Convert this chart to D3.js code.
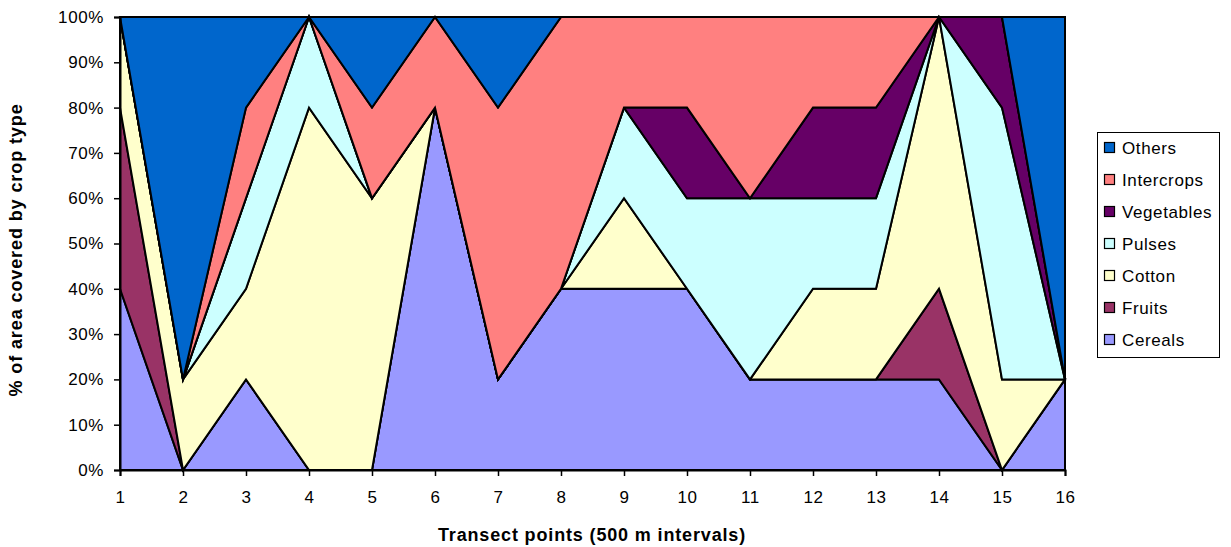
<!DOCTYPE html>
<html>
<head>
<meta charset="utf-8">
<script src="https://cdn.jsdelivr.net/npm/d3@7/dist/d3.min.js"></script>
<style>
  html, body { margin: 0; padding: 0; background: #fff; }
  svg { display: block; font-family: "Liberation Sans", Arial, sans-serif; }
</style>
</head>
<body>
<svg id="chart" width="1231" height="547"></svg>
<script>
// Transect points along the survey line
const points = [1, 2, 3, 4, 5, 6, 7, 8, 9, 10, 11, 12, 13, 14, 15, 16];

// Share of area (%) by crop type at each transect point
const cereals    = [40, 0, 20, 0, 0, 80, 20, 40, 40, 40, 20, 20, 20, 20, 0, 20];
const fruits     = [40, 0, 0, 0, 0, 0, 0, 0, 0, 0, 0, 0, 0, 20, 0, 0];
const cotton     = [20, 20, 20, 80, 60, 0, 0, 0, 20, 0, 0, 20, 20, 60, 20, 0];
const pulses     = [0, 0, 20, 20, 0, 0, 0, 0, 20, 20, 40, 20, 20, 0, 60, 0];
const vegetables = [0, 0, 0, 0, 0, 0, 0, 0, 0, 20, 0, 20, 20, 0, 20, 0];
const intercrops = [0, 0, 20, 0, 20, 20, 60, 60, 20, 20, 40, 20, 20, 0, 0, 0];
const others     = [0, 80, 20, 0, 20, 0, 20, 0, 0, 0, 0, 0, 0, 0, 0, 80];

const seriesNames  = ["Cereals", "Fruits", "Cotton", "Pulses", "Vegetables", "Intercrops", "Others"];
const seriesValues = [cereals, fruits, cotton, pulses, vegetables, intercrops, others];
const seriesColors = ["#9999FF", "#993366", "#FFFFCC", "#CCFFFF", "#660066", "#FF8080", "#0066CC"];

const yTicks = [0, 10, 20, 30, 40, 50, 60, 70, 80, 90, 100];

const svg = d3.select("#chart");
const plot = { left: 120, right: 1065, top: 17, bottom: 470 };

const x = d3.scaleLinear().domain([1, 16]).range([plot.left, plot.right]);
const y = d3.scaleLinear().domain([0, 100]).range([plot.bottom, plot.top]);

// Build rows for d3.stack
const rows = points.map((p, i) => {
  const r = { point: p };
  seriesNames.forEach((n, k) => { r[n] = seriesValues[k][i]; });
  return r;
});
const stacked = d3.stack().keys(seriesNames)(rows);

const area = d3.area()
  .x(d => x(d.data.point))
  .y0(d => y(d[0]))
  .y1(d => y(d[1]));

svg.append("g")
  .selectAll("path")
  .data(stacked)
  .join("path")
  .attr("d", area)
  .attr("fill", (d, i) => seriesColors[i])
  .attr("stroke", "#000")
  .attr("stroke-width", 2)
  .attr("stroke-linejoin", "miter");

// Plot frame (top and right edges)
svg.append("path")
  .attr("d", `M${plot.left},${plot.top}H${plot.right}V${plot.bottom}`)
  .attr("fill", "none").attr("stroke", "#000").attr("stroke-width", 2);

const tickFont = g => g.selectAll("text")
  .attr("font-size", 17).attr("fill", "#000")
  .attr("letter-spacing", 0.6)
  .attr("font-family", "Liberation Sans, Arial, sans-serif");

// Y axis
const yAxis = d3.axisLeft(y).tickValues(yTicks).tickFormat(d => d + "%").tickSize(6).tickPadding(10);
const gy = svg.append("g").attr("transform", `translate(${plot.left},0)`).call(yAxis);
gy.select(".domain").attr("stroke-width", 2);
gy.selectAll(".tick line").attr("stroke-width", 1.5);
tickFont(gy);

// X axis
const xAxis = d3.axisBottom(x).tickValues(points).tickFormat(d3.format("d")).tickSize(6).tickPadding(15);
const gx = svg.append("g").attr("transform", `translate(0,${plot.bottom})`).call(xAxis);
gx.select(".domain").attr("stroke-width", 2);
gx.selectAll(".tick line").attr("stroke-width", 1.5);
tickFont(gx);

// Axis titles
svg.append("text")
  .attr("x", 592).attr("y", 541)
  .attr("text-anchor", "middle").attr("font-size", 18).attr("font-weight", "bold")
  .attr("letter-spacing", 0.85)
  .text("Transect points (500 m intervals)");

svg.append("text")
  .attr("transform", `translate(22,250) rotate(-90)`)
  .attr("text-anchor", "middle").attr("font-size", 18).attr("font-weight", "bold")
  .attr("letter-spacing", 0.9)
  .text("% of area covered by crop type");

// Legend (top to bottom in reverse stacking order)
const legend = svg.append("g");
legend.append("rect")
  .attr("x", 1097.5).attr("y", 132.5).attr("width", 122).attr("height", 225)
  .attr("fill", "#fff").attr("stroke", "#000").attr("stroke-width", 1);

const legendOrder = seriesNames.map((n, i) => i).reverse();
legendOrder.forEach((k, j) => {
  const cy = 148 + j * 32;
  legend.append("rect")
    .attr("x", 1104.5).attr("y", cy - 5.5).attr("width", 10).attr("height", 10)
    .attr("fill", seriesColors[k]).attr("stroke", "#000").attr("stroke-width", 1.2);
  legend.append("text")
    .attr("x", 1122).attr("y", cy + 6)
    .attr("font-size", 17).attr("letter-spacing", 0.6).attr("fill", "#000")
    .text(seriesNames[k]);
});
</script>
</body>
</html>
